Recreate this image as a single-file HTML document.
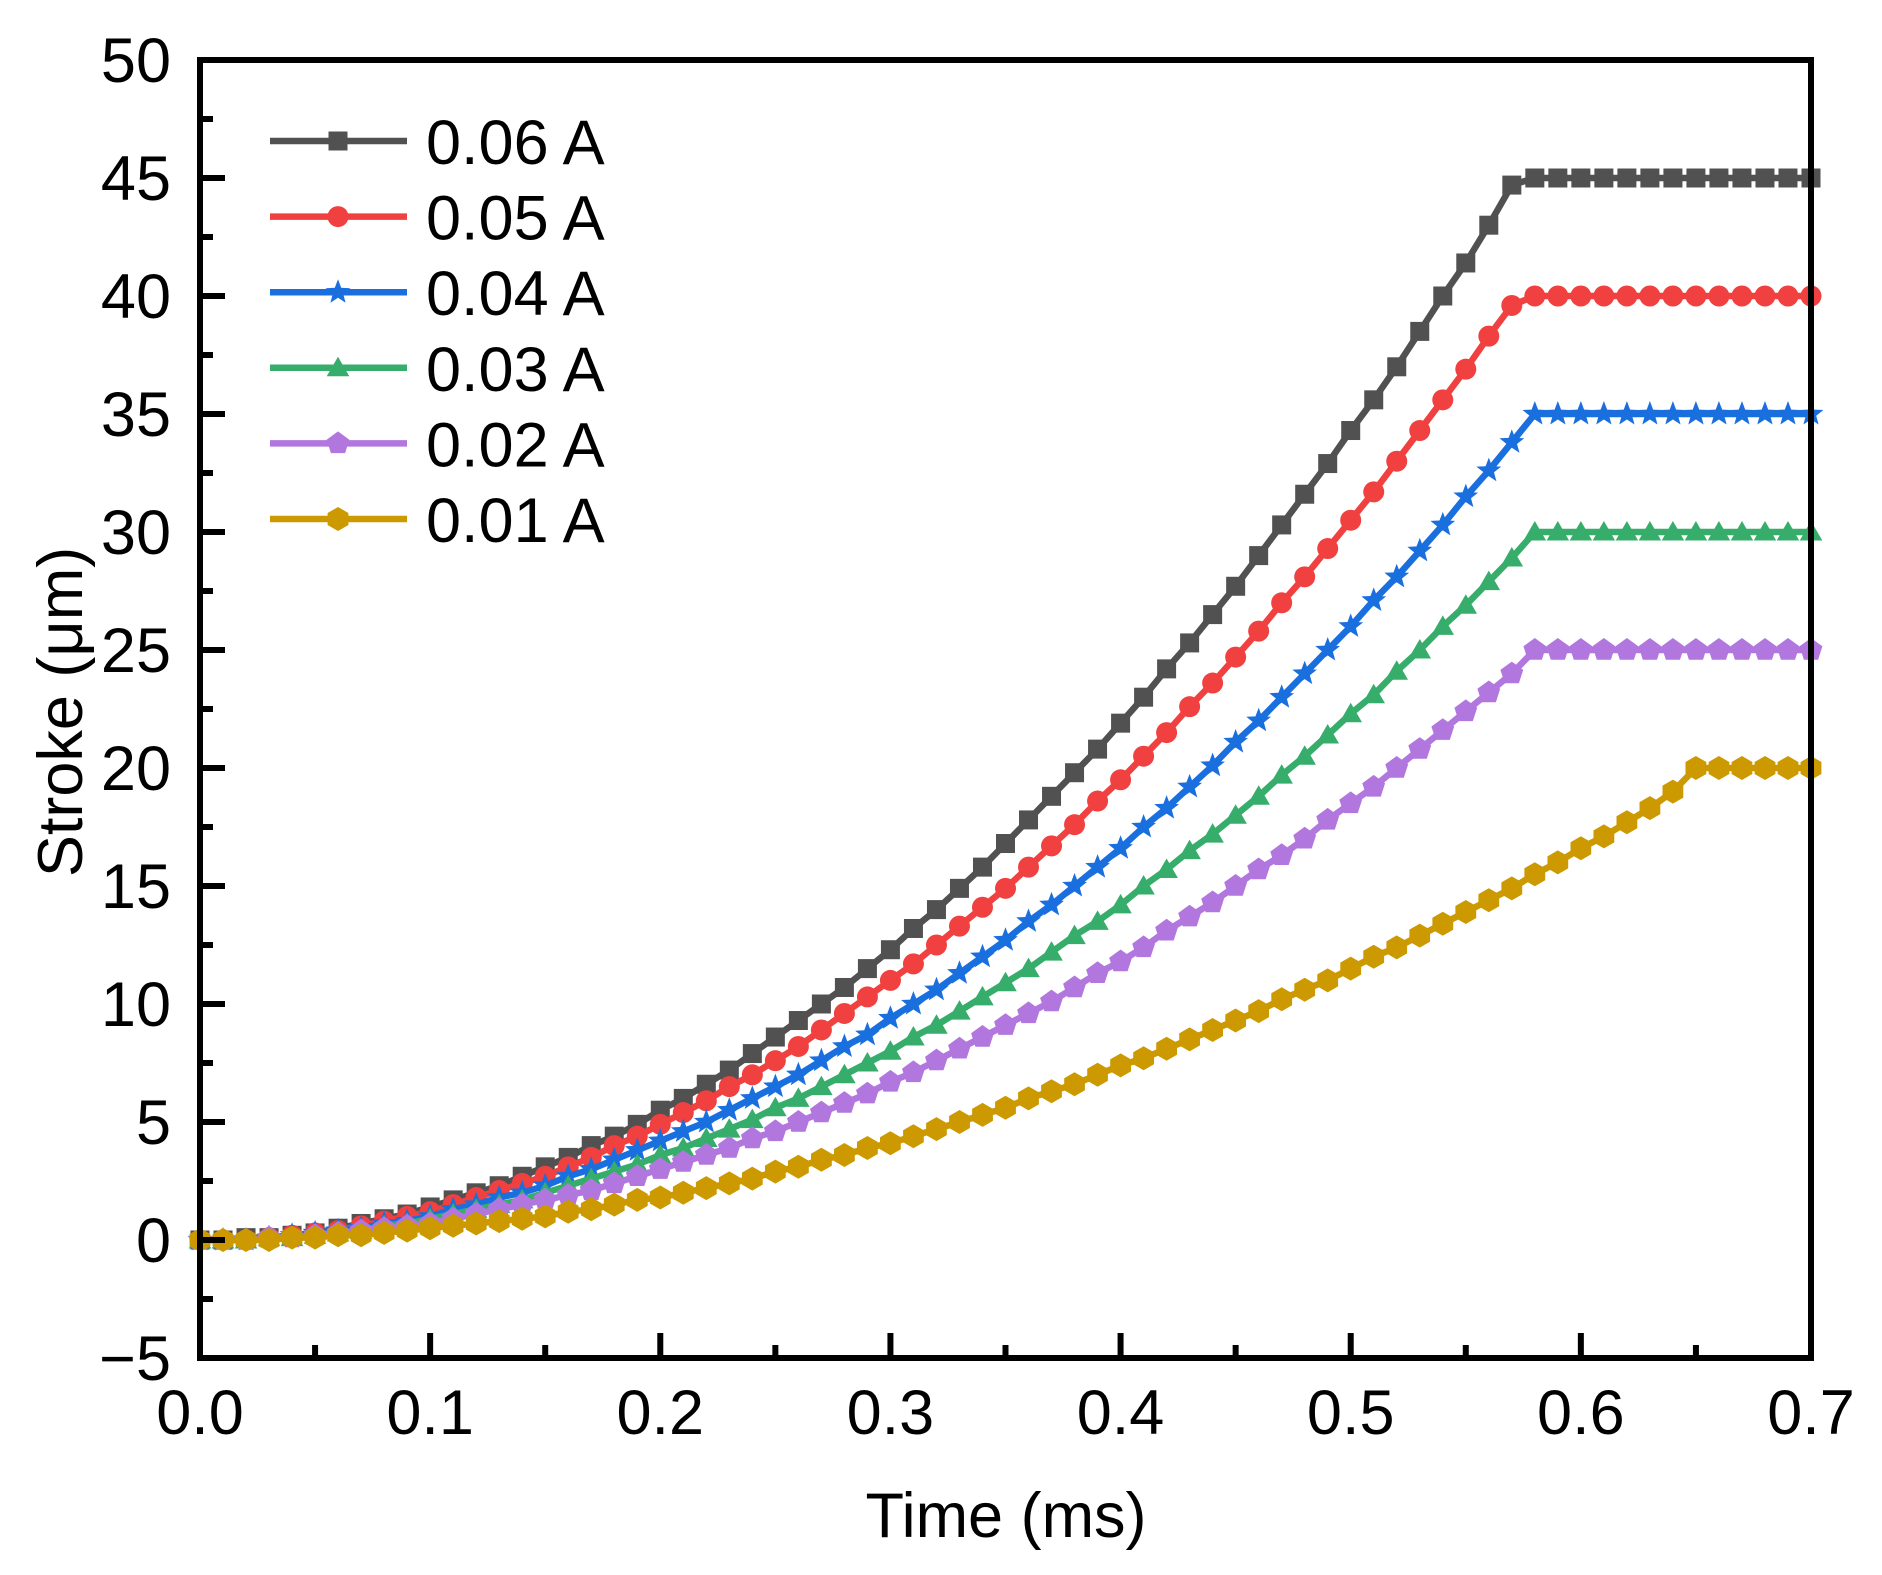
<!DOCTYPE html>
<html><head><meta charset="utf-8"><style>
html,body{margin:0;padding:0;background:#fff;}
svg{display:block;font-family:"Liberation Sans",Arial,sans-serif;}
</style></head><body>
<svg id="chart" width="1882" height="1575" viewBox="0 0 1882 1575" xmlns="http://www.w3.org/2000/svg">
<g id="series-layer"></g>
<g id="axes-layer"></g>
<g id="legend-layer"></g>
<text x="1006" y="1537" font-size="63" text-anchor="middle">Time (ms)</text>
<text transform="translate(82,712) rotate(-90)" font-size="63" text-anchor="middle">Stroke (μm)</text>
</svg>
<script>
const times = [0,0.01,0.02,0.03,0.04,0.05,0.06,0.07,0.08,0.09,0.10,0.11,0.12,0.13,0.14,0.15,0.16,0.17,0.18,0.19,0.20,0.21,0.22,0.23,0.24,0.25,0.26,0.27,0.28,0.29,0.30,0.31,0.32,0.33,0.34,0.35,0.36,0.37,0.38,0.39,0.40,0.41,0.42,0.43,0.44,0.45,0.46,0.47,0.48,0.49,0.50,0.51,0.52,0.53,0.54,0.55,0.56,0.57,0.58,0.59,0.60,0.61,0.62,0.63,0.64,0.65,0.66,0.67,0.68,0.69,0.70];
const s006 = [0,0.0,0.1,0.1,0.2,0.3,0.5,0.7,0.9,1.1,1.4,1.7,2.0,2.3,2.7,3.1,3.5,4.0,4.4,4.9,5.5,6.0,6.6,7.2,7.9,8.6,9.3,10.0,10.7,11.5,12.3,13.2,14.0,14.9,15.8,16.8,17.8,18.8,19.8,20.8,21.9,23.0,24.2,25.3,26.5,27.7,29.0,30.3,31.6,32.9,34.3,35.6,37.0,38.5,40.0,41.4,43.0,44.7,45,45,45,45,45,45,45,45,45,45,45,45,45];
const s005 = [0,0.0,0.0,0.1,0.2,0.3,0.4,0.6,0.8,1.0,1.2,1.5,1.8,2.1,2.4,2.7,3.1,3.5,4.0,4.4,4.9,5.4,5.9,6.5,7.0,7.6,8.2,8.9,9.6,10.3,11.0,11.7,12.5,13.3,14.1,14.9,15.8,16.7,17.6,18.6,19.5,20.5,21.5,22.6,23.6,24.7,25.8,27.0,28.1,29.3,30.5,31.7,33.0,34.3,35.6,36.9,38.3,39.6,40,40,40,40,40,40,40,40,40,40,40,40,40];
const s004 = [0,0.0,0.0,0.1,0.2,0.3,0.4,0.5,0.7,0.8,1.0,1.3,1.5,1.8,2.0,2.3,2.7,3.0,3.4,3.8,4.2,4.6,5.0,5.5,6.0,6.5,7.0,7.6,8.2,8.7,9.4,10.0,10.6,11.3,12.0,12.7,13.5,14.2,15.0,15.8,16.6,17.5,18.3,19.2,20.1,21.1,22.0,23.0,24.0,25.0,26.0,27.1,28.1,29.2,30.3,31.5,32.6,33.8,35,35,35,35,35,35,35,35,35,35,35,35,35];
const s003 = [0,0.0,0.0,0.1,0.1,0.2,0.3,0.4,0.6,0.7,0.9,1.1,1.3,1.5,1.7,2.0,2.3,2.6,2.9,3.2,3.6,3.9,4.3,4.7,5.1,5.6,6.0,6.5,7.0,7.5,8.0,8.6,9.1,9.7,10.3,10.9,11.5,12.2,12.9,13.5,14.2,15.0,15.7,16.5,17.2,18.0,18.8,19.7,20.5,21.4,22.3,23.1,24.1,25.0,26.0,26.9,27.9,28.9,30,30,30,30,30,30,30,30,30,30,30,30,30];
const s002 = [0,0.0,0.0,0.1,0.1,0.2,0.3,0.4,0.5,0.6,0.7,0.9,1.1,1.3,1.5,1.7,1.9,2.1,2.4,2.7,3.0,3.3,3.6,3.9,4.3,4.6,5.0,5.4,5.8,6.2,6.7,7.1,7.6,8.1,8.6,9.1,9.6,10.1,10.7,11.3,11.8,12.4,13.1,13.7,14.3,15.0,15.7,16.3,17.0,17.8,18.5,19.2,20.0,20.8,21.6,22.4,23.2,24.0,25,25,25,25,25,25,25,25,25,25,25,25,25];
const s001 = [0,0.0,0.0,0.0,0.1,0.1,0.2,0.2,0.3,0.4,0.5,0.6,0.7,0.8,0.9,1.0,1.2,1.3,1.5,1.7,1.8,2.0,2.2,2.4,2.6,2.9,3.1,3.4,3.6,3.9,4.1,4.4,4.7,5.0,5.3,5.6,6.0,6.3,6.6,7.0,7.4,7.7,8.1,8.5,8.9,9.3,9.7,10.2,10.6,11.0,11.5,12.0,12.4,12.9,13.4,13.9,14.4,14.9,15.5,16.0,16.6,17.1,17.7,18.3,19.0,20,20,20,20,20,20];
const seriesLabels = ["0.06 A","0.05 A","0.04 A","0.03 A","0.02 A","0.01 A"];
const xTickLabels = ["0.0","0.1","0.2","0.3","0.4","0.5","0.6","0.7"];
const yTickLabels = ["−5","0","5","10","15","20","25","30","35","40","45","50"];

const NS="http://www.w3.org/2000/svg";
const X0=200,X1=1811,Y0=1358,Y1=60;
const xMin=0,xMax=0.7,yMin=-5,yMax=50;
function sx(v){return X0+(v-xMin)/(xMax-xMin)*(X1-X0);}
function sy(v){return Y0-(v-yMin)/(yMax-yMin)*(Y0-Y1);}
function mk(tag,attrs,parent){const e=document.createElementNS(NS,tag);for(const k in attrs)e.setAttribute(k,attrs[k]);parent.appendChild(e);return e;}

const styles=[
 {c:"#515151",m:"square"},{c:"#f04040",m:"circle"},{c:"#1a6fdf",m:"star"},
 {c:"#37ad6b",m:"triangle"},{c:"#b177de",m:"pentagon"},{c:"#cc9900",m:"hexagon"}];
const allSeries=[s006,s005,s004,s003,s002,s001];

function poly(n,r,rot,cx,cy){let p=[];for(let i=0;i<n;i++){const a=rot+i*2*Math.PI/n;p.push((cx+r*Math.cos(a)).toFixed(1)+","+(cy+r*Math.sin(a)).toFixed(1));}return p.join(" ");}
function star(cx,cy,R,r){let p=[];for(let i=0;i<10;i++){const a=-Math.PI/2+i*Math.PI/5;const rr=i%2?r:R;p.push((cx+rr*Math.cos(a)).toFixed(1)+","+(cy+rr*Math.sin(a)).toFixed(1));}return p.join(" ");}
function marker(type,cx,cy,col,parent){
 let e;
 if(type==="square")e=mk("rect",{x:cx-9.5,y:cy-9.5,width:19,height:19,fill:col},parent);
 else if(type==="circle")e=mk("circle",{cx:cx,cy:cy,r:10.5,fill:col},parent);
 else if(type==="star")e=mk("polygon",{points:star(cx,cy,13,5.5),fill:col},parent);
 else if(type==="triangle")e=mk("polygon",{points:poly(3,13,-Math.PI/2,cx,cy+2),fill:col},parent);
 else if(type==="pentagon")e=mk("polygon",{points:poly(5,12,-Math.PI/2,cx,cy),fill:col},parent);
 else e=mk("polygon",{points:poly(6,12,-Math.PI/2,cx,cy),fill:col},parent);
 return e;
}

const sl=document.getElementById("series-layer");
allSeries.forEach((vals,si)=>{
 const g=mk("g",{},sl);
 
 
 const pts=vals.map((v,i)=>sx(times[i]).toFixed(1)+","+sy(v).toFixed(1)).join(" ");
 const ln=mk("polyline",{points:pts,fill:"none",stroke:styles[si].c,"stroke-width":6.5,"stroke-linejoin":"round"},g);
 
 
 vals.forEach((v,i)=>{
  const m=marker(styles[si].m,sx(times[i]),sy(v),styles[si].c,g);
  
  
 });
});

const ax=document.getElementById("axes-layer");
const frame=mk("rect",{x:X0,y:Y1,width:X1-X0,height:Y0-Y1,fill:"none",stroke:"#000","stroke-width":6},ax);


xTickLabels.forEach((lab,i)=>{
 const v=i*0.1,x=sx(v);
 const t=mk("line",{x1:x,y1:Y0,x2:x,y2:Y0-25,stroke:"#000","stroke-width":6},ax);
 
 
 if(i<xTickLabels.length-1){const mx=sx(v+0.05);
  const m=mk("line",{x1:mx,y1:Y0,x2:mx,y2:Y0-13,stroke:"#000","stroke-width":6},ax);
  
  }
 const tx=mk("text",{x:x,y:1434,"font-size":63,"text-anchor":"middle"},ax);
 tx.textContent=lab;
 
 
});
yTickLabels.forEach((lab,i)=>{
 const v=-5+i*5,y=sy(v);
 const t=mk("line",{x1:X0,y1:y,x2:X0+25,y2:y,stroke:"#000","stroke-width":6},ax);
 
 
 if(i<yTickLabels.length-1){const my=sy(v+2.5);
  const m=mk("line",{x1:X0,y1:my,x2:X0+13,y2:my,stroke:"#000","stroke-width":6},ax);
  
  }
 const tx=mk("text",{x:171,y:y+22,"font-size":63,"text-anchor":"end"},ax);
 tx.textContent=lab;
 
 
});

const lg=document.getElementById("legend-layer");
seriesLabels.forEach((lab,i)=>{
 const y=141+i*75.6;
 const g=mk("g",{},lg);
 
 
 mk("line",{x1:270,y1:y,x2:407,y2:y,stroke:styles[i].c,"stroke-width":6.5},g);
 marker(styles[i].m,338,y,styles[i].c,g);
 const t=mk("text",{x:426,y:y+23,"font-size":63},g);
 t.textContent=lab;
});
</script>
</body></html>
